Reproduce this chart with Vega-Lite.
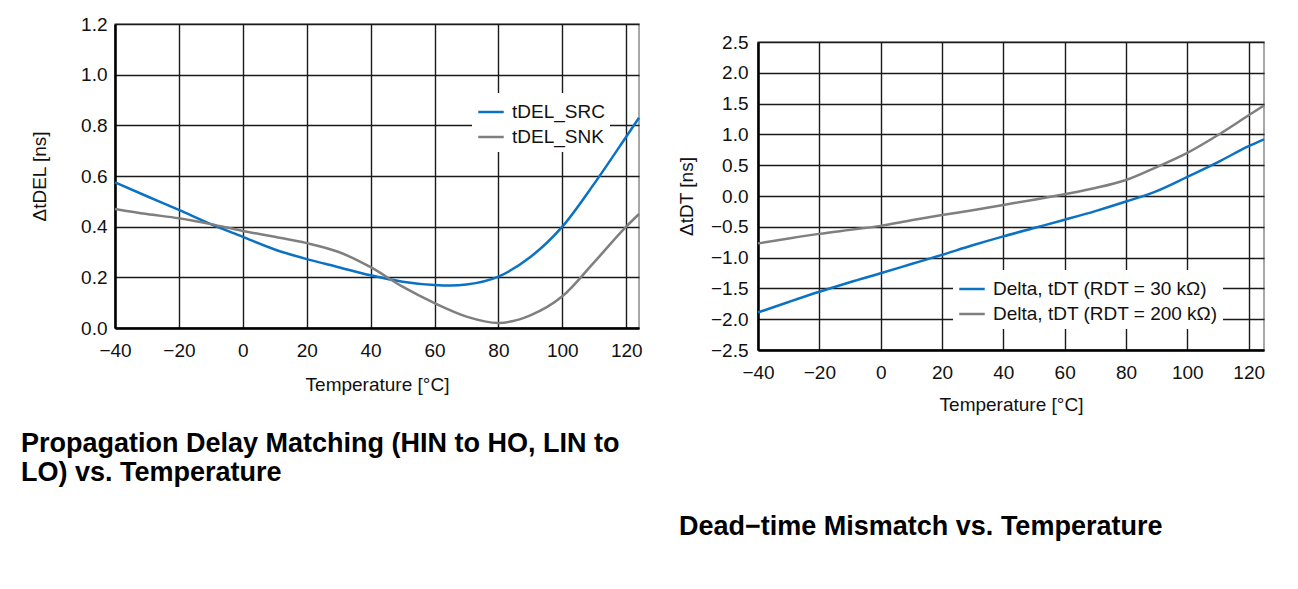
{
  "$schema": "https://vega.github.io/schema/vega-lite/v6.json",
  "background": "white",
  "padding": {"left": 20, "top": 14, "right": 5, "bottom": 5},
  "spacing": 31,
  "resolve": {"scale": {"color": "independent"}, "legend": {"color": "independent"}},
  "config": {
    "font": "Liberation Sans",
    "view": {"stroke": "#8c8c8c", "strokeWidth": 1.5},
    "axis": {
      "labelFontSize": 19, "titleFontSize": 19, "titleFontWeight": "normal",
      "labelColor": "#111", "titleColor": "#111",
      "gridColor": "#1a1a1a", "gridOpacity": 1, "gridWidth": 1.4,
      "domainColor": "#000", "domainWidth": 2.5,
      "ticks": false, "labelFlush": false, "labelOverlap": false
    },
    "legend": {
      "labelFontSize": 19, "labelColor": "#111", "symbolType": "stroke",
      "symbolSize": 650, "symbolStrokeWidth": 2.5, "fillColor": "white",
      "padding": 5, "rowPadding": 1, "labelOffset": 7, "labelLimit": 400
    },
    "title": {"font": "Liberation Sans", "fontSize": 27, "fontWeight": "bold", "color": "#000", "lineHeight": 29}
  },
  "datasets": {
    "left": [
      {"series": "tDEL_SRC", "t": -40, "v": 0.575},
      {"series": "tDEL_SRC", "t": -30, "v": 0.52},
      {"series": "tDEL_SRC", "t": -20, "v": 0.466},
      {"series": "tDEL_SRC", "t": -10, "v": 0.41},
      {"series": "tDEL_SRC", "t": 0, "v": 0.36},
      {"series": "tDEL_SRC", "t": 10, "v": 0.31},
      {"series": "tDEL_SRC", "t": 20, "v": 0.272},
      {"series": "tDEL_SRC", "t": 30, "v": 0.24},
      {"series": "tDEL_SRC", "t": 40, "v": 0.208},
      {"series": "tDEL_SRC", "t": 50, "v": 0.183},
      {"series": "tDEL_SRC", "t": 60, "v": 0.17},
      {"series": "tDEL_SRC", "t": 65, "v": 0.168},
      {"series": "tDEL_SRC", "t": 70, "v": 0.172},
      {"series": "tDEL_SRC", "t": 80, "v": 0.203},
      {"series": "tDEL_SRC", "t": 90, "v": 0.28},
      {"series": "tDEL_SRC", "t": 100, "v": 0.4},
      {"series": "tDEL_SRC", "t": 110, "v": 0.57},
      {"series": "tDEL_SRC", "t": 120, "v": 0.755},
      {"series": "tDEL_SRC", "t": 124, "v": 0.83},
      {"series": "tDEL_SNK", "t": -40, "v": 0.47},
      {"series": "tDEL_SNK", "t": -30, "v": 0.45},
      {"series": "tDEL_SNK", "t": -20, "v": 0.433},
      {"series": "tDEL_SNK", "t": -10, "v": 0.41},
      {"series": "tDEL_SNK", "t": 0, "v": 0.383},
      {"series": "tDEL_SNK", "t": 10, "v": 0.36},
      {"series": "tDEL_SNK", "t": 20, "v": 0.335},
      {"series": "tDEL_SNK", "t": 30, "v": 0.3},
      {"series": "tDEL_SNK", "t": 40, "v": 0.24},
      {"series": "tDEL_SNK", "t": 50, "v": 0.163},
      {"series": "tDEL_SNK", "t": 60, "v": 0.098},
      {"series": "tDEL_SNK", "t": 70, "v": 0.045},
      {"series": "tDEL_SNK", "t": 80, "v": 0.02},
      {"series": "tDEL_SNK", "t": 90, "v": 0.05},
      {"series": "tDEL_SNK", "t": 100, "v": 0.125},
      {"series": "tDEL_SNK", "t": 110, "v": 0.26},
      {"series": "tDEL_SNK", "t": 120, "v": 0.4},
      {"series": "tDEL_SNK", "t": 124, "v": 0.45}
    ],
    "right": [
      {"series": "Delta, tDT (RDT = 30 kΩ)", "t": -40, "v": -1.89},
      {"series": "Delta, tDT (RDT = 30 kΩ)", "t": -30, "v": -1.72},
      {"series": "Delta, tDT (RDT = 30 kΩ)", "t": -20, "v": -1.555},
      {"series": "Delta, tDT (RDT = 30 kΩ)", "t": -10, "v": -1.4},
      {"series": "Delta, tDT (RDT = 30 kΩ)", "t": 0, "v": -1.255},
      {"series": "Delta, tDT (RDT = 30 kΩ)", "t": 10, "v": -1.105},
      {"series": "Delta, tDT (RDT = 30 kΩ)", "t": 20, "v": -0.955},
      {"series": "Delta, tDT (RDT = 30 kΩ)", "t": 30, "v": -0.8},
      {"series": "Delta, tDT (RDT = 30 kΩ)", "t": 40, "v": -0.655},
      {"series": "Delta, tDT (RDT = 30 kΩ)", "t": 50, "v": -0.52},
      {"series": "Delta, tDT (RDT = 30 kΩ)", "t": 60, "v": -0.385},
      {"series": "Delta, tDT (RDT = 30 kΩ)", "t": 70, "v": -0.245},
      {"series": "Delta, tDT (RDT = 30 kΩ)", "t": 80, "v": -0.09},
      {"series": "Delta, tDT (RDT = 30 kΩ)", "t": 90, "v": 0.08},
      {"series": "Delta, tDT (RDT = 30 kΩ)", "t": 100, "v": 0.31},
      {"series": "Delta, tDT (RDT = 30 kΩ)", "t": 110, "v": 0.55},
      {"series": "Delta, tDT (RDT = 30 kΩ)", "t": 120, "v": 0.81},
      {"series": "Delta, tDT (RDT = 30 kΩ)", "t": 125, "v": 0.92},
      {"series": "Delta, tDT (RDT = 200 kΩ)", "t": -40, "v": -0.77},
      {"series": "Delta, tDT (RDT = 200 kΩ)", "t": -30, "v": -0.69},
      {"series": "Delta, tDT (RDT = 200 kΩ)", "t": -20, "v": -0.615},
      {"series": "Delta, tDT (RDT = 200 kΩ)", "t": -10, "v": -0.55},
      {"series": "Delta, tDT (RDT = 200 kΩ)", "t": 0, "v": -0.485},
      {"series": "Delta, tDT (RDT = 200 kΩ)", "t": 10, "v": -0.395},
      {"series": "Delta, tDT (RDT = 200 kΩ)", "t": 20, "v": -0.31},
      {"series": "Delta, tDT (RDT = 200 kΩ)", "t": 30, "v": -0.23},
      {"series": "Delta, tDT (RDT = 200 kΩ)", "t": 40, "v": -0.145},
      {"series": "Delta, tDT (RDT = 200 kΩ)", "t": 50, "v": -0.06},
      {"series": "Delta, tDT (RDT = 200 kΩ)", "t": 60, "v": 0.03},
      {"series": "Delta, tDT (RDT = 200 kΩ)", "t": 70, "v": 0.13},
      {"series": "Delta, tDT (RDT = 200 kΩ)", "t": 80, "v": 0.26},
      {"series": "Delta, tDT (RDT = 200 kΩ)", "t": 90, "v": 0.47},
      {"series": "Delta, tDT (RDT = 200 kΩ)", "t": 100, "v": 0.7},
      {"series": "Delta, tDT (RDT = 200 kΩ)", "t": 110, "v": 0.99},
      {"series": "Delta, tDT (RDT = 200 kΩ)", "t": 120, "v": 1.31},
      {"series": "Delta, tDT (RDT = 200 kΩ)", "t": 125, "v": 1.47}
    ]
  },
  "hconcat": [
    {
      "width": 524,
      "height": 304,
      "data": {"name": "left"},
      "title": {
        "text": ["Propagation Delay Matching (HIN to HO, LIN to", "LO) vs. Temperature"],
        "orient": "bottom", "anchor": "start", "frame": "group", "dx": -94, "offset": 37
      },
      "mark": {"type": "line", "interpolate": "monotone", "strokeWidth": 2.5},
      "encoding": {
        "x": {
          "field": "t", "type": "quantitative",
          "scale": {"domain": [-40, 124], "nice": false, "zero": false},
          "axis": {"values": [-40, -20, 0, 20, 40, 60, 80, 100, 120], "title": "Temperature [°C]", "labelPadding": 13, "titlePadding": 15}
        },
        "y": {
          "field": "v", "type": "quantitative",
          "scale": {"domain": [0, 1.2], "nice": false},
          "axis": {"values": [0, 0.2, 0.4, 0.6, 0.8, 1.0, 1.2], "format": ".1f", "title": "ΔtDEL [ns]", "labelPadding": 8, "titlePadding": 31}
        },
        "color": {
          "field": "series", "type": "nominal",
          "scale": {"domain": ["tDEL_SRC", "tDEL_SNK"], "range": ["#0b72c3", "#7f7f7f"]},
          "legend": {"title": null, "orient": "none", "legendX": 357, "legendY": 69}
        }
      }
    },
    {
      "spacing": 7,
      "vconcat": [
        {
          "width": 506,
          "height": 1,
          "view": {"stroke": null},
          "data": {"values": []},
          "mark": {"type": "point", "opacity": 0},
          "encoding": {}
        },
        {
          "width": 506,
          "height": 308,
          "data": {"name": "right"},
          "title": {
            "text": "Dead−time Mismatch vs. Temperature",
            "orient": "bottom", "anchor": "start", "frame": "group", "dx": -79, "offset": 100
          },
          "mark": {"type": "line", "interpolate": "monotone", "strokeWidth": 2.5},
          "encoding": {
            "x": {
              "field": "t", "type": "quantitative",
              "scale": {"domain": [-40, 125], "nice": false, "zero": false},
              "axis": {"values": [-40, -20, 0, 20, 40, 60, 80, 100, 120], "title": "Temperature [°C]", "labelPadding": 13, "titlePadding": 13}
            },
            "y": {
              "field": "v", "type": "quantitative",
              "scale": {"domain": [-2.5, 2.5], "nice": false},
              "axis": {"values": [-2.5, -2, -1.5, -1, -0.5, 0, 0.5, 1, 1.5, 2, 2.5], "format": ".1f", "title": "ΔtDT [ns]", "labelPadding": 10, "titlePadding": 14}
            },
            "color": {
              "field": "series", "type": "nominal",
              "scale": {"domain": ["Delta, tDT (RDT = 30 kΩ)", "Delta, tDT (RDT = 200 kΩ)"], "range": ["#0b72c3", "#7f7f7f"]},
              "legend": {"title": null, "orient": "none", "legendX": 195, "legendY": 246}
            }
          }
        }
      ]
    }
  ]
}
